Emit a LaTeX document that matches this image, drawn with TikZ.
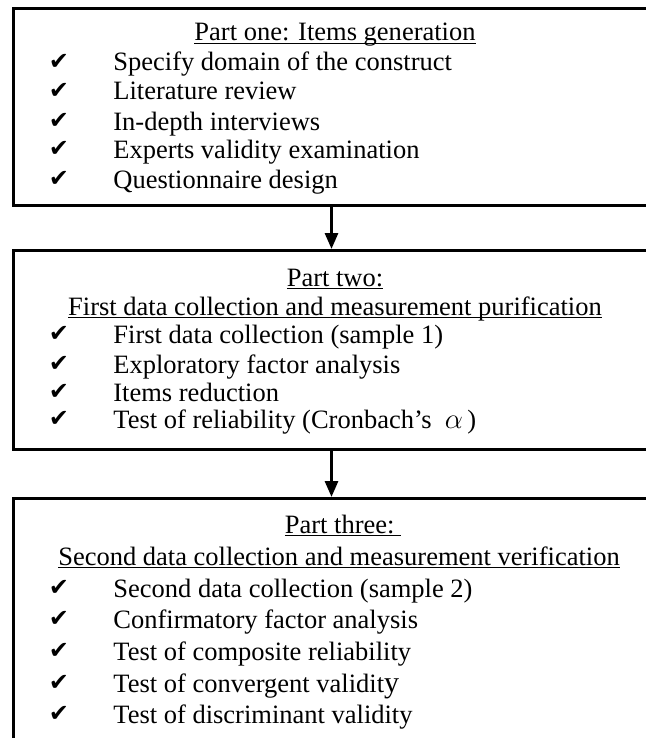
\documentclass[tikz,border=0pt]{standalone}
\usepackage{fontspec}
\setmainfont{Liberation Serif}
\newfontfamily\tickfont{DejaVu Sans}
\usetikzlibrary{arrows.meta}

% underline that ignores descenders
\newcommand{\headline}[1]{\underline{\smash{#1}}}

\tikzset{
  part/.style={draw, line width=1.5pt, anchor=north west, inner sep=0pt, minimum width=323pt},
  head/.style={anchor=base, inner sep=0pt, font=\fontsize{13.25}{15}\selectfont},
  item/.style={anchor=base west, inner sep=0pt, font=\fontsize{13.25}{15}\selectfont},
  tick/.style={anchor=base, inner sep=0pt, font=\tickfont\fontsize{12}{14}\selectfont},
  flow/.style={line width=1.5pt, -{Triangle[length=8pt,width=6.5pt]}}
}

\begin{document}
\begin{tikzpicture}[x=0.5pt,y=-0.5pt]
\useasboundingbox (0,0) rectangle (646,738);
\clip (0,0) rectangle (646,738);

% the three parts
\node[part, minimum height=98.5pt] (p1) at (12,7) {};
\node[part, minimum height=99.5pt] (p2) at (12,249) {};
\node[part, minimum height=135pt] (p3) at (12,497) {};

% part one
\node[head] (h1) at (335,41) {\headline{Part one: Items generation}};
\node[tick] (t11) at (59,69) {✔};
\node[item] (i11) at (113,71) {Specify domain of the construct};
\node[tick] (t12) at (59,98) {✔};
\node[item] (i12) at (113,100) {Literature review};
\node[tick] (t13) at (59,128) {✔};
\node[item] (i13) at (113,130) {In-depth interviews};
\node[tick] (t14) at (59,156) {✔};
\node[item] (i14) at (113,158) {Experts validity examination};
\node[tick] (t15) at (59,186) {✔};
\node[item] (i15) at (113,188) {Questionnaire design};

% part two
\node[head] (h2) at (335,286) {\headline{Part two:}};
\node[head] (h2b) at (335,315) {\headline{First data collection and measurement purification}};
\node[tick] (t21) at (59,341) {✔};
\node[item] (i21) at (113,343) {First data collection (sample 1)};
\node[tick] (t22) at (59,371) {✔};
\node[item] (i22) at (113,373) {Exploratory factor analysis};
\node[tick] (t23) at (59,399) {✔};
\node[item] (i23) at (113,401) {Items reduction};
\node[tick] (t24) at (59,426) {✔};
\node[item] (i24) at (113,428) {Test of reliability (Cronbach's\ \ $\alpha$\,)};

% part three
\node[head] (h3) at (343,533) {\headline{Part three:\ }};
\node[head] (h3b) at (339,565) {\headline{Second data collection and measurement verification}};
\node[tick] (t31) at (59,595) {✔};
\node[item] (i31) at (113,597) {Second data collection (sample 2)};
\node[tick] (t32) at (59,626) {✔};
\node[item] (i32) at (113,628) {Confirmatory factor analysis};
\node[tick] (t33) at (59,658) {✔};
\node[item] (i33) at (113,660) {Test of composite reliability};
\node[tick] (t34) at (59,690) {✔};
\node[item] (i34) at (113,692) {Test of convergent validit{\fontsize{15}{15}\selectfont y}};
\node[tick] (t35) at (59,721) {✔};
\node[item] (i35) at (113,723) {Test of discriminant validity};

% arrows between parts
\draw[flow] ([xshift=-2.5pt]p1.south) -- ([xshift=-2.5pt]p2.north);
\draw[flow] ([xshift=-2.5pt]p2.south) -- ([xshift=-2.5pt]p3.north);
\end{tikzpicture}
\end{document}
